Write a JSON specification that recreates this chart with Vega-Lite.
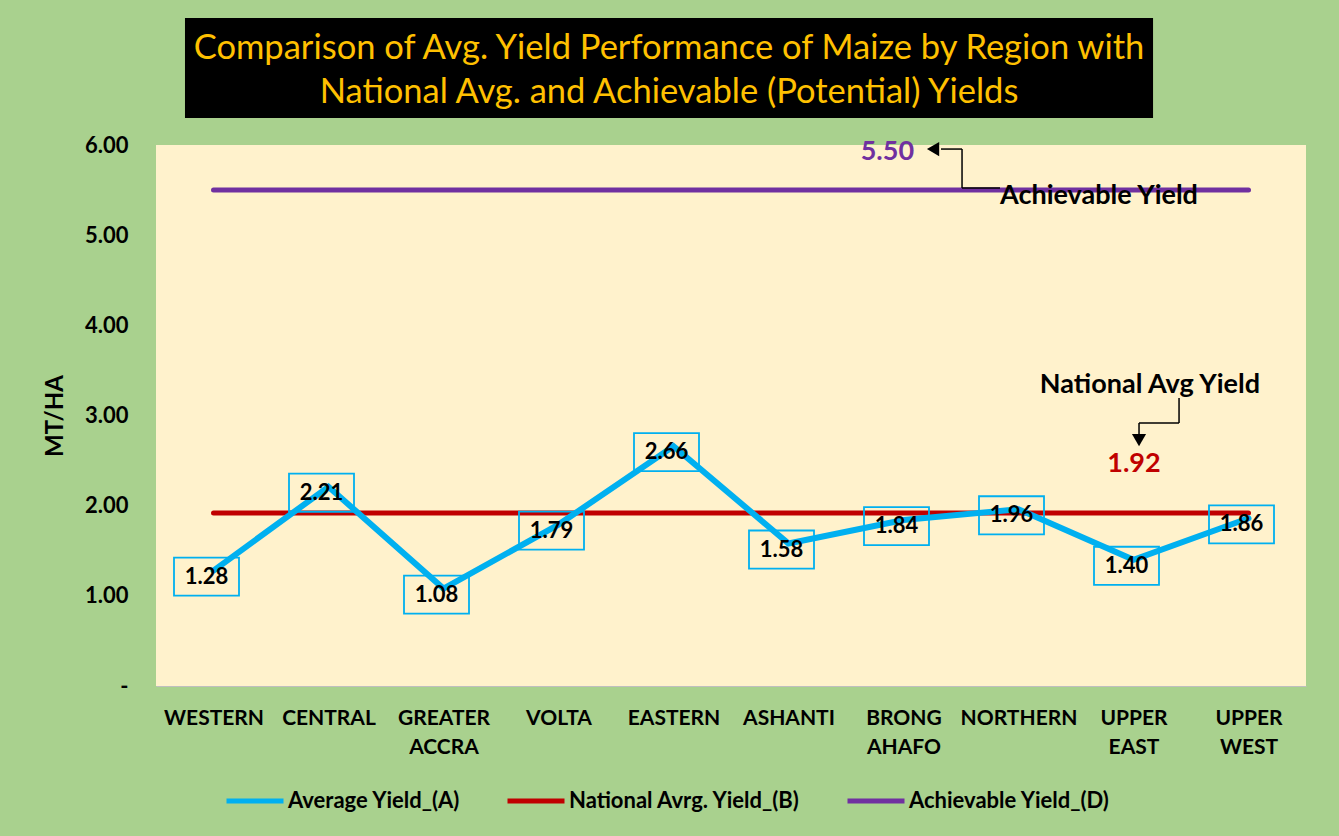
{
  "$schema": "https://vega.github.io/schema/vega-lite/v6.json",
  "background": "#A9D18E",
  "padding": {"left": 43, "top": 18, "right": 33, "bottom": 24},
  "config": {"font": "Lato", "view": {"stroke": null}},
  "width": 1150,
  "height": 541,
  "view": {"fill": "#FFF2CC", "stroke": null},
  "datasets": {
    "series": [
      {"region": "WESTERN", "series": "Average Yield_(A)", "value": 1.28},
      {"region": "CENTRAL", "series": "Average Yield_(A)", "value": 2.21},
      {"region": "GREATER ACCRA", "series": "Average Yield_(A)", "value": 1.08},
      {"region": "VOLTA", "series": "Average Yield_(A)", "value": 1.79},
      {"region": "EASTERN", "series": "Average Yield_(A)", "value": 2.66},
      {"region": "ASHANTI", "series": "Average Yield_(A)", "value": 1.58},
      {"region": "BRONG AHAFO", "series": "Average Yield_(A)", "value": 1.84},
      {"region": "NORTHERN", "series": "Average Yield_(A)", "value": 1.96},
      {"region": "UPPER EAST", "series": "Average Yield_(A)", "value": 1.40},
      {"region": "UPPER WEST", "series": "Average Yield_(A)", "value": 1.86},
      {"region": "WESTERN", "series": "National Avrg. Yield_(B)", "value": 1.92},
      {"region": "CENTRAL", "series": "National Avrg. Yield_(B)", "value": 1.92},
      {"region": "GREATER ACCRA", "series": "National Avrg. Yield_(B)", "value": 1.92},
      {"region": "VOLTA", "series": "National Avrg. Yield_(B)", "value": 1.92},
      {"region": "EASTERN", "series": "National Avrg. Yield_(B)", "value": 1.92},
      {"region": "ASHANTI", "series": "National Avrg. Yield_(B)", "value": 1.92},
      {"region": "BRONG AHAFO", "series": "National Avrg. Yield_(B)", "value": 1.92},
      {"region": "NORTHERN", "series": "National Avrg. Yield_(B)", "value": 1.92},
      {"region": "UPPER EAST", "series": "National Avrg. Yield_(B)", "value": 1.92},
      {"region": "UPPER WEST", "series": "National Avrg. Yield_(B)", "value": 1.92},
      {"region": "WESTERN", "series": "Achievable Yield_(D)", "value": 5.5},
      {"region": "CENTRAL", "series": "Achievable Yield_(D)", "value": 5.5},
      {"region": "GREATER ACCRA", "series": "Achievable Yield_(D)", "value": 5.5},
      {"region": "VOLTA", "series": "Achievable Yield_(D)", "value": 5.5},
      {"region": "EASTERN", "series": "Achievable Yield_(D)", "value": 5.5},
      {"region": "ASHANTI", "series": "Achievable Yield_(D)", "value": 5.5},
      {"region": "BRONG AHAFO", "series": "Achievable Yield_(D)", "value": 5.5},
      {"region": "NORTHERN", "series": "Achievable Yield_(D)", "value": 5.5},
      {"region": "UPPER EAST", "series": "Achievable Yield_(D)", "value": 5.5},
      {"region": "UPPER WEST", "series": "Achievable Yield_(D)", "value": 5.5}
    ],
    "titleBox": [
      {"x": 0.252, "x2": 8.67, "y": 7.408, "y2": 6.299, "title": "Comparison of Avg. Yield Performance of Maize by Region with\nNational Avg. and Achievable (Potential) Yields", "tx": 4.461, "ty": 7.065}
    ],
    "annoLines": [
      {"x": 7.339, "x2": 7.009, "y": 5.523, "y2": 5.523},
      {"x": 7.009, "x2": 7.009, "y": 5.523, "y2": 5.955},
      {"x": 7.009, "x2": 6.826, "y": 5.955, "y2": 5.955},
      {"x": 8.896, "x2": 8.896, "y": 3.194, "y2": 2.917},
      {"x": 8.896, "x2": 8.548, "y": 2.917, "y2": 2.917},
      {"x": 8.548, "x2": 8.548, "y": 2.917, "y2": 2.795}
    ],
    "annoArrows": [
      {"x": 6.757, "y": 5.955, "dir": "left"},
      {"x": 8.548, "y": 2.728, "dir": "down"}
    ],
    "annoText": [
      {"x": 8.2, "y": 5.434, "label": "Achievable Yield", "kind": "name"},
      {"x": 8.643, "y": 3.338, "label": "National Avg Yield", "kind": "name"},
      {"x": 6.36, "y": 5.922, "label": "5.50", "kind": "achievable"},
      {"x": 8.504, "y": 2.462, "label": "1.92", "kind": "national"}
    ]
  },
  "layer": [
    {
      "data": {"name": "series"},
      "encoding": {
        "x": {
          "field": "region", "type": "nominal",
          "scale": {"type": "point", "padding": 0.5, "domain": ["WESTERN", "CENTRAL", "GREATER ACCRA", "VOLTA", "EASTERN", "ASHANTI", "BRONG AHAFO", "NORTHERN", "UPPER EAST", "UPPER WEST"]},
          "axis": {"title": null, "labelExpr": "split(datum.label, ' ')", "labelFontSize": 21, "labelFontWeight": "bold", "labelColor": "black", "labelLineHeight": 29, "labelAngle": 0, "labelLimit": 0, "ticks": false, "labelPadding": 21, "domainColor": "#BFBFBF", "domainWidth": 1, "grid": false}
        },
        "y": {
          "field": "value", "type": "quantitative",
          "scale": {"domain": [0, 6], "nice": false},
          "axis": {"title": "MT/HA", "titleFontSize": 24, "titleFontWeight": "bold", "titleColor": "black", "titlePadding": 17, "values": [0, 1, 2, 3, 4, 5, 6], "labelExpr": "datum.value == 0 ? '-' : format(datum.value, '.2f')", "labelFontSize": 22, "labelFontWeight": "bold", "labelColor": "black", "labelPadding": 28, "ticks": false, "domain": false, "grid": false}
        }
      },
      "layer": [
        {
          "transform": [{"filter": "datum.series != 'Average Yield_(A)'"}],
          "mark": {"type": "line", "strokeWidth": 5, "strokeCap": "round"},
          "encoding": {
            "color": {
              "field": "series", "type": "nominal",
              "scale": {"domain": ["Average Yield_(A)", "National Avrg. Yield_(B)", "Achievable Yield_(D)"], "range": ["#00B0F0", "#C00000", "#7030A0"]},
              "legend": {"title": null, "orient": "none", "legendX": 68, "legendY": 625, "direction": "horizontal", "symbolType": "stroke", "symbolSize": 3249, "symbolStrokeWidth": 5, "labelFontSize": 22, "labelFontWeight": "bold", "labelColor": "black", "labelLimit": 0, "columnPadding": 36, "labelOffset": 2}
            }
          }
        },
        {
          "transform": [{"filter": "datum.series == 'Average Yield_(A)'"}],
          "mark": {"type": "line", "strokeWidth": 6, "strokeCap": "round"},
          "encoding": {"color": {"field": "series", "type": "nominal"}}
        },
        {
          "transform": [{"filter": "datum.series == 'Average Yield_(A)'"}],
          "mark": {"type": "point", "shape": "M-1,-0.585H1V0.585H-1Z", "size": 4225, "filled": false, "stroke": "#00B0F0", "strokeWidth": 1.8, "opacity": 1, "xOffset": -7, "yOffset": 6}
        },
        {
          "transform": [{"filter": "datum.series == 'Average Yield_(A)'"}],
          "mark": {"type": "text", "fontSize": 22, "fontWeight": "bold", "color": "black", "xOffset": -7, "yOffset": 6, "baseline": "middle"},
          "encoding": {"text": {"field": "value", "type": "quantitative", "format": ".2f"}}
        }
      ]
    },
    {
      "layer": [
        {
          "data": {"name": "titleBox"},
          "mark": {"type": "rect", "color": "black", "opacity": 1},
          "encoding": {
            "x": {"field": "x", "type": "quantitative", "scale": {"domain": [0, 10], "nice": false, "zero": false}, "axis": null},
            "x2": {"field": "x2"},
            "y": {"field": "y", "type": "quantitative", "scale": {"domain": [0, 6], "nice": false}},
            "y2": {"field": "y2"}
          }
        },
        {
          "data": {"name": "titleBox"},
          "mark": {"type": "text", "lineBreak": "\n", "fontSize": 34.5, "color": "#FFC000", "lineHeight": 44, "baseline": "middle", "align": "center"},
          "encoding": {
            "x": {"field": "tx", "type": "quantitative"},
            "y": {"field": "ty", "type": "quantitative"},
            "text": {"field": "title", "type": "nominal"}
          }
        },
        {
          "data": {"name": "annoLines"},
          "mark": {"type": "rule", "color": "black", "strokeWidth": 1.5},
          "encoding": {
            "x": {"field": "x", "type": "quantitative"},
            "y": {"field": "y", "type": "quantitative"},
            "x2": {"field": "x2"}, "y2": {"field": "y2"}
          }
        },
        {
          "data": {"name": "annoArrows"},
          "mark": {"type": "point", "filled": true, "color": "black", "size": 200, "opacity": 1},
          "encoding": {
            "x": {"field": "x", "type": "quantitative"},
            "y": {"field": "y", "type": "quantitative"},
            "shape": {"field": "dir", "type": "nominal", "scale": {"domain": ["left", "down"], "range": ["triangle-left", "triangle-down"]}, "legend": null}
          }
        },
        {
          "data": {"name": "annoText"},
          "transform": [{"filter": "datum.kind == 'name'"}],
          "mark": {"type": "text", "fontSize": 27, "fontWeight": "bold", "color": "black", "baseline": "middle"},
          "encoding": {
            "x": {"field": "x", "type": "quantitative"},
            "y": {"field": "y", "type": "quantitative"},
            "text": {"field": "label", "type": "nominal"}
          }
        },
        {
          "data": {"name": "annoText"},
          "transform": [{"filter": "datum.kind == 'achievable'"}],
          "mark": {"type": "text", "fontSize": 27, "fontWeight": "bold", "color": "#7030A0", "baseline": "middle"},
          "encoding": {
            "x": {"field": "x", "type": "quantitative"},
            "y": {"field": "y", "type": "quantitative"},
            "text": {"field": "label", "type": "nominal"}
          }
        },
        {
          "data": {"name": "annoText"},
          "transform": [{"filter": "datum.kind == 'national'"}],
          "mark": {"type": "text", "fontSize": 27, "fontWeight": "bold", "color": "#C00000", "baseline": "middle"},
          "encoding": {
            "x": {"field": "x", "type": "quantitative"},
            "y": {"field": "y", "type": "quantitative"},
            "text": {"field": "label", "type": "nominal"}
          }
        }
      ]
    }
  ],
  "resolve": {"scale": {"x": "independent", "shape": "independent"}}
}
